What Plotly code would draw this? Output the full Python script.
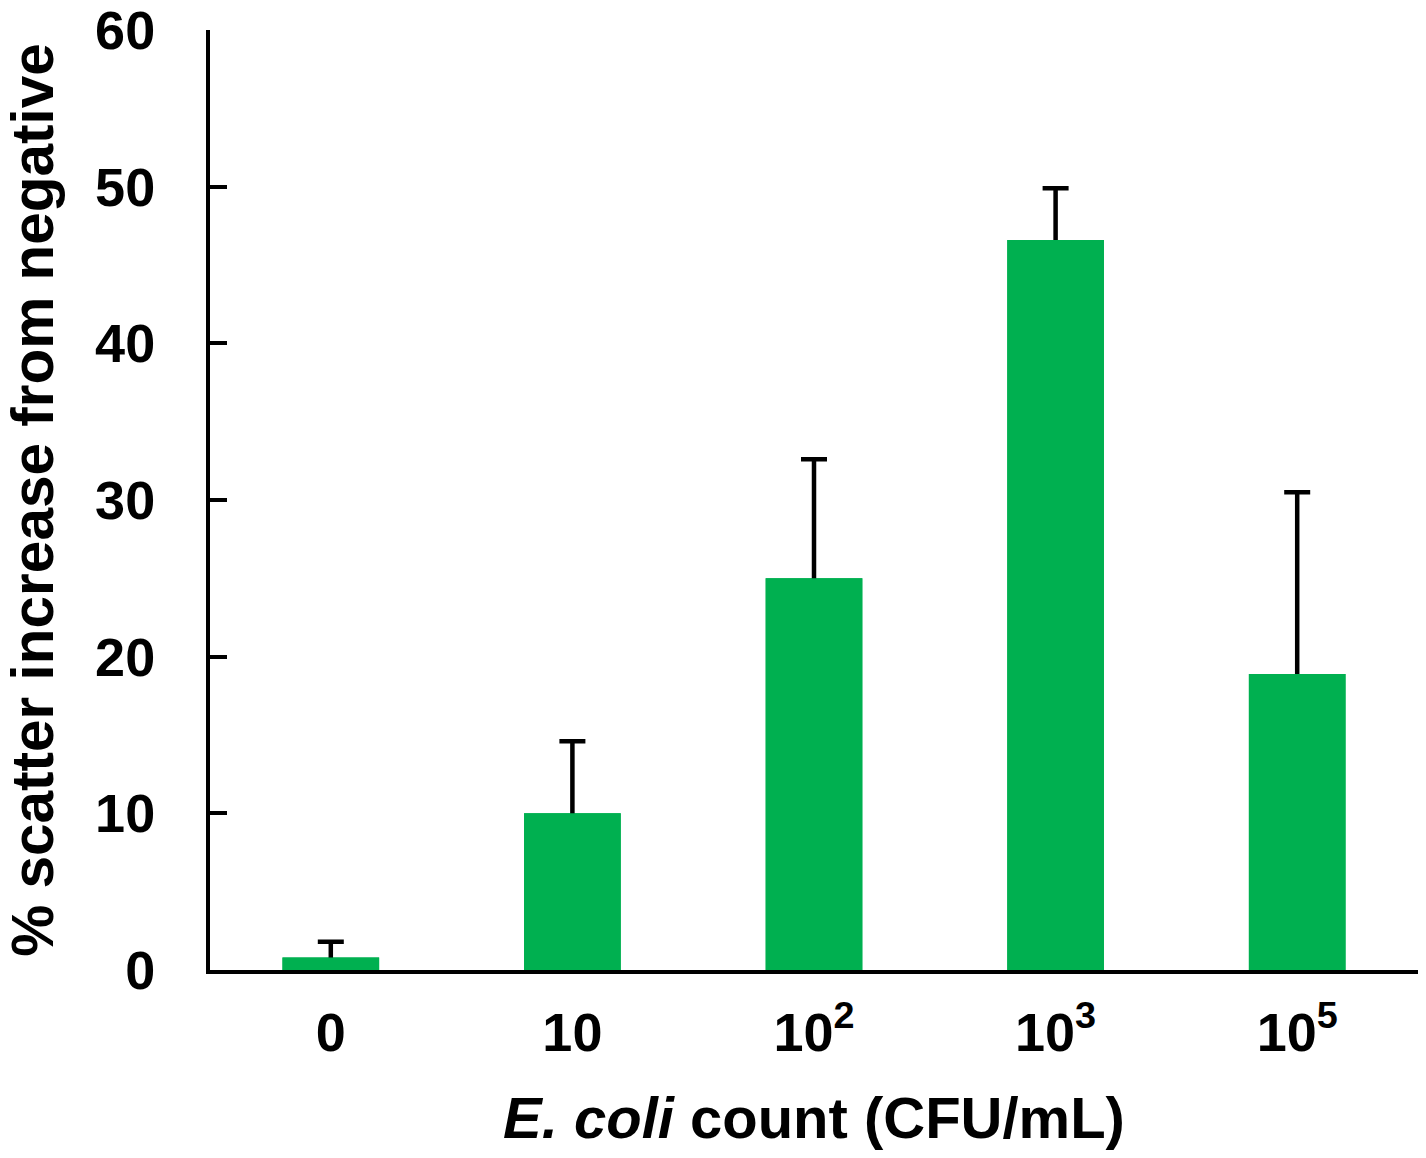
import plotly.graph_objects as go

categories = ["0", "10", "10<sup>2</sup>", "10<sup>3</sup>", "10<sup>5</sup>"]
values = [0.8, 10.0, 25.0, 46.6, 18.9]
errors = [1.0, 4.6, 7.6, 3.3, 11.6]

FONT = "Liberation Sans, Arial, sans-serif"
FS = 54
GREEN = "#00B050"
xs = list(range(len(categories)))

fig = go.Figure()
# bar carrying the (upper) error bars; its lower cap is hidden by the overlay bar
fig.add_trace(go.Bar(
    x=xs, y=values, width=0.4,
    marker=dict(color=GREEN, line=dict(width=0)),
    error_y=dict(type="data", array=errors, arrayminus=[0.4] * len(errors),
                 symmetric=False, color="black", thickness=4.5, width=13),
))
fig.add_trace(go.Bar(
    x=xs, y=values, width=0.4,
    marker=dict(color=GREEN, line=dict(width=0)),
))

fig.update_layout(
    width=1426, height=1158,
    paper_bgcolor="white", plot_bgcolor="white",
    margin=dict(l=210, r=8, t=30, b=188),
    showlegend=False, barmode="overlay",
    font=dict(family=FONT, color="black"),
)
fig.update_xaxes(
    range=[-0.5, 4.5], automargin=False,
    tickmode="array", tickvals=xs, ticktext=categories,
    tickfont=dict(size=FS, weight="bold", family=FONT),
    ticks="", showline=True, linecolor="black", linewidth=4,
    showgrid=False, zeroline=False, ticklabelstandoff=12,
    ticklabeloverflow="allow",
    title=dict(text="<i>E. coli</i> count (CFU/mL)",
               font=dict(size=58, weight="bold", family=FONT), standoff=38),
)
fig.update_yaxes(
    range=[0, 60], tickmode="linear", tick0=0, dtick=10, automargin=False,
    tickfont=dict(size=FS, weight="bold", family=FONT),
    ticks="inside", ticklen=17, tickwidth=4, tickcolor="black",
    showline=True, linecolor="black", linewidth=4,
    showgrid=False, zeroline=False, ticklabelstandoff=40,
    ticklabeloverflow="allow",
    title=dict(text="% scatter increase from negative",
               font=dict(size=58.5, weight="bold", family=FONT), standoff=34),
)

fig.write_html("out.html", config={"displayModeBar": False},
               post_script="document.body.style.margin='0px';")
